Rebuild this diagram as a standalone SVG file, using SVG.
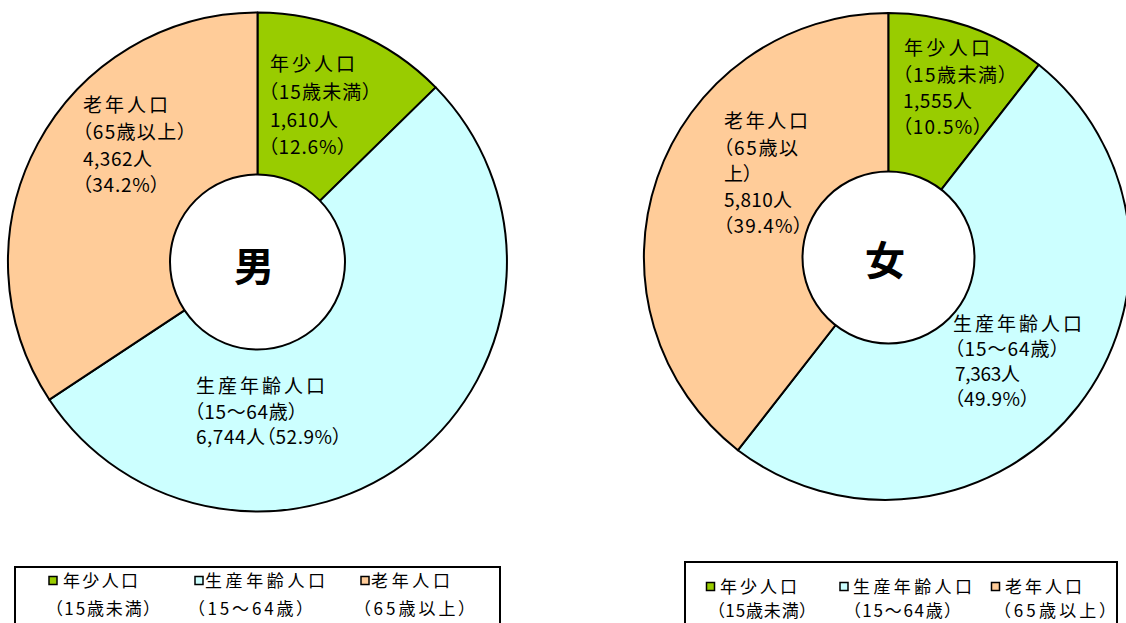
<svg xmlns="http://www.w3.org/2000/svg" width="1126" height="623" viewBox="0 0 1126 623">
<style>
text{font-family:"Noto Sans CJK JP","Noto Sans CJK SC",sans-serif;fill:#000;font-feature-settings:"palt";}
.lb{font-size:19px;}
.lg{font-size:17px;}
.ctr{font-size:40px;font-weight:bold;text-anchor:middle;}
.yo{fill:#99CC00;}
.wk{fill:#CCFFFF;}
.od{fill:#FFCC99;}
.seg{stroke:#000;stroke-width:2;stroke-linejoin:round;}
.hole{fill:#fff;stroke:#000;stroke-width:2;}
.box{fill:#fff;stroke:#000;stroke-width:2;}
.sq{stroke:#000;stroke-width:1.5;}
</style>
<rect width="1126" height="623" fill="#fff"/>

<g id="male-chart">
  <g id="male-youth"><path class="seg yo" d="M257.5,262 L257.5,12.5 A249.5,249.5 0 0 1 435.7,87.4 Z"/></g>
  <g id="male-working"><path class="seg wk" d="M257.5,262 L435.7,87.4 A249.5,249.5 0 1 1 49.4,399.7 Z"/></g>
  <g id="male-old"><path class="seg od" d="M257.5,262 L49.4,399.7 A249.5,249.5 0 0 1 257.5,12.5 Z"/></g>
  <g id="male-center">
    <circle class="hole" cx="257.5" cy="262" r="87.5"/>
    <text class="ctr" x="254" y="281">男</text>
  </g>
  <g id="male-youth-label" class="lb">
    <text x="270" y="71" textLength="85" lengthAdjust="spacing">年少人口</text>
    <text x="268" y="99" textLength="104" lengthAdjust="spacing">（15歳未満）</text>
    <text x="270" y="127" textLength="68" lengthAdjust="spacing">1,610人</text>
    <text x="268" y="154" textLength="79" lengthAdjust="spacing">（12.6%）</text>
  </g>
  <g id="male-old-label" class="lb">
    <text x="83" y="112" textLength="85" lengthAdjust="spacing">老年人口</text>
    <text x="82" y="139" textLength="105" lengthAdjust="spacing">（65歳以上）</text>
    <text x="83" y="166" textLength="69" lengthAdjust="spacing">4,362人</text>
    <text x="82" y="192" textLength="78" lengthAdjust="spacing">（34.2%）</text>
  </g>
  <g id="male-working-label" class="lb">
    <text x="196" y="393" textLength="129" lengthAdjust="spacing">生産年齢人口</text>
    <text x="194" y="419" textLength="104" lengthAdjust="spacing">（15～64歳）</text>
    <text x="196" y="444" textLength="146" lengthAdjust="spacing">6,744人（52.9%）</text>
  </g>
</g>

<g id="female-chart">
  <g id="female-youth"><path class="seg yo" d="M888.3,257.5 L888.3,13 A244.5,244.5 0 0 1 1038.8,64.8 Z"/></g>
  <g id="female-working"><path class="seg wk" d="M888.3,257.5 L1038.8,64.8 A244.5,244.5 0 0 1 737.9,450.2 Z"/></g>
  <g id="female-old"><path class="seg od" d="M888.3,257.5 L737.9,450.2 A244.5,244.5 0 0 1 888.3,13 Z"/></g>
  <g id="female-center">
    <circle class="hole" cx="888.5" cy="257.5" r="86"/>
    <text class="ctr" x="885" y="275">女</text>
  </g>
  <g id="female-youth-label" class="lb">
    <text x="904" y="55" textLength="86" lengthAdjust="spacing">年少人口</text>
    <text x="902" y="82" textLength="106" lengthAdjust="spacing">（15歳未満）</text>
    <text x="903" y="108" textLength="69" lengthAdjust="spacing">1,555人</text>
    <text x="902" y="134" textLength="81" lengthAdjust="spacing">（10.5%）</text>
  </g>
  <g id="female-old-label" class="lb">
    <text x="724" y="128" textLength="84" lengthAdjust="spacing">老年人口</text>
    <text x="723" y="155" textLength="75" lengthAdjust="spacing">（65歳以</text>
    <text x="724" y="181" textLength="29" lengthAdjust="spacing">上）</text>
    <text x="724" y="207" textLength="68" lengthAdjust="spacing">5,810人</text>
    <text x="723" y="233" textLength="80" lengthAdjust="spacing">（39.4%）</text>
  </g>
  <g id="female-working-label" class="lb">
    <text x="953" y="331" textLength="129" lengthAdjust="spacing">生産年齢人口</text>
    <text x="954" y="356" textLength="106" lengthAdjust="spacing">（15～64歳）</text>
    <text x="955" y="381" textLength="65" lengthAdjust="spacing">7,363人</text>
    <text x="954" y="406" textLength="76" lengthAdjust="spacing">（49.9%）</text>
  </g>
</g>

<g id="male-legend">
  <rect class="box" x="15" y="567" width="485" height="70"/>
  <rect class="sq yo" x="49" y="576.5" width="8" height="8"/>
  <text class="lg" x="63" y="587" textLength="75" lengthAdjust="spacing">年少人口</text>
  <text class="lg" x="54" y="615" textLength="98" lengthAdjust="spacing">（15歳未満）</text>
  <rect class="sq wk" x="195" y="576.5" width="8" height="8"/>
  <text class="lg" x="205" y="587" textLength="120" lengthAdjust="spacing">生産年齢人口</text>
  <text class="lg" x="196" y="615" textLength="109" lengthAdjust="spacing">（15～64歳）</text>
  <rect class="sq od" x="361" y="576.5" width="8" height="8"/>
  <text class="lg" x="371" y="587" textLength="79" lengthAdjust="spacing">老年人口</text>
  <text class="lg" x="362" y="615" textLength="105" lengthAdjust="spacing">（65歳以上）</text>
</g>

<g id="female-legend">
  <rect class="box" x="685" y="562" width="432" height="75"/>
  <rect class="sq yo" x="706.5" y="582.5" width="8" height="8"/>
  <text class="lg" x="720" y="593" textLength="77" lengthAdjust="spacing">年少人口</text>
  <text class="lg" x="716" y="617" textLength="92" lengthAdjust="spacing">（15歳未満）</text>
  <rect class="sq wk" x="840" y="582.5" width="8" height="8"/>
  <text class="lg" x="853" y="593" textLength="119" lengthAdjust="spacing">生産年齢人口</text>
  <text class="lg" x="852" y="617" textLength="101" lengthAdjust="spacing">（15～64歳）</text>
  <rect class="sq od" x="991.5" y="582.5" width="8" height="8"/>
  <text class="lg" x="1005" y="593" textLength="77" lengthAdjust="spacing">老年人口</text>
  <text class="lg" x="1002" y="617" textLength="106" lengthAdjust="spacing">（65歳以上）</text>
</g>
</svg>
